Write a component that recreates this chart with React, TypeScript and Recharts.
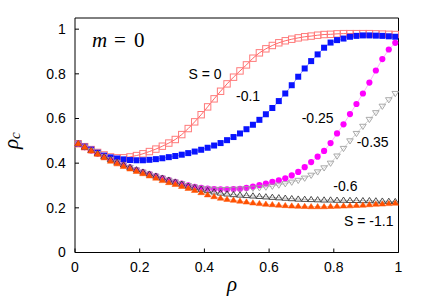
import { LineChart, Line, XAxis, YAxis } from "recharts";

// rho values where every curve is sampled
const rho = [
  0.01, 0.03, 0.05, 0.07, 0.09, 0.11, 0.13, 0.15, 0.17, 0.19, 0.21, 0.23, 0.25, 0.27, 0.29, 0.31, 0.33,
  0.35, 0.37, 0.39, 0.41, 0.43, 0.45, 0.47, 0.49, 0.51, 0.53, 0.55, 0.57, 0.59, 0.61, 0.63, 0.65, 0.67,
  0.69, 0.71, 0.73, 0.75, 0.77, 0.79, 0.81, 0.83, 0.85, 0.87, 0.89, 0.91, 0.93, 0.95, 0.97, 0.99,
];

// S = 0
const sZero = [
  0.487, 0.474, 0.461, 0.448, 0.437, 0.428, 0.424, 0.424, 0.428, 0.434, 0.442, 0.452, 0.463, 0.476, 0.49,
  0.506, 0.528, 0.555, 0.585, 0.617, 0.652, 0.688, 0.722, 0.755, 0.785, 0.813, 0.84, 0.87, 0.894, 0.912,
  0.927, 0.939, 0.948, 0.955, 0.961, 0.966, 0.969, 0.973, 0.976, 0.977, 0.979, 0.98, 0.98, 0.98, 0.98,
  0.98, 0.979, 0.978, 0.977, 0.976,
];

// S = -0.1
const sM01 = [
  0.487, 0.474, 0.461, 0.447, 0.434, 0.426, 0.421, 0.417, 0.414, 0.413, 0.413, 0.415, 0.418, 0.422, 0.427,
  0.432, 0.438, 0.445, 0.452, 0.46, 0.469, 0.479, 0.49, 0.503, 0.517, 0.533, 0.552, 0.572, 0.594, 0.619,
  0.647, 0.678, 0.712, 0.749, 0.787, 0.824, 0.857, 0.887, 0.917, 0.94, 0.951, 0.958, 0.966, 0.97, 0.972,
  0.972, 0.971, 0.97, 0.968, 0.966,
];

// S = -0.25
const sM025 = [
  0.487, 0.472, 0.457, 0.443, 0.429, 0.416, 0.404, 0.392, 0.381, 0.37, 0.36, 0.351, 0.342, 0.333, 0.324,
  0.316, 0.309, 0.301, 0.294, 0.289, 0.286, 0.284, 0.283, 0.283, 0.284, 0.285, 0.289, 0.295, 0.302, 0.309,
  0.316, 0.323, 0.332, 0.345, 0.361, 0.382, 0.405, 0.429, 0.455, 0.49, 0.533, 0.574, 0.62, 0.665, 0.712,
  0.761, 0.815, 0.866, 0.909, 0.939,
];

// S = -0.35
const sM035 = [
  0.487, 0.472, 0.457, 0.443, 0.429, 0.416, 0.404, 0.392, 0.381, 0.37, 0.36, 0.351, 0.342, 0.333, 0.324,
  0.316, 0.308, 0.3, 0.293, 0.288, 0.285, 0.283, 0.282, 0.282, 0.283, 0.284, 0.286, 0.288, 0.29, 0.293,
  0.297, 0.302, 0.308, 0.315, 0.323, 0.333, 0.346, 0.361, 0.379, 0.4, 0.432, 0.466, 0.5, 0.533, 0.565,
  0.596, 0.626, 0.655, 0.684, 0.712,
];

// S = -0.6
const sM06 = [
  0.487, 0.472, 0.457, 0.443, 0.429, 0.416, 0.404, 0.392, 0.381, 0.37, 0.36, 0.351, 0.342, 0.333, 0.324,
  0.315, 0.306, 0.297, 0.29, 0.283, 0.277, 0.271, 0.266, 0.262, 0.259, 0.257, 0.255, 0.253, 0.251, 0.249,
  0.247, 0.245, 0.243, 0.241, 0.239, 0.238, 0.237, 0.236, 0.235, 0.235, 0.234, 0.234, 0.233, 0.233, 0.232,
  0.232, 0.231, 0.23, 0.229, 0.228,
];

// S = -1.1
const sM11 = [
  0.487, 0.471, 0.455, 0.44, 0.424, 0.409, 0.397, 0.385, 0.374, 0.363, 0.353, 0.343, 0.333, 0.322, 0.313,
  0.305, 0.296, 0.287, 0.278, 0.268, 0.258, 0.25, 0.243, 0.238, 0.234, 0.23, 0.226, 0.222, 0.219, 0.216,
  0.214, 0.212, 0.21, 0.208, 0.207, 0.206, 0.205, 0.205, 0.205, 0.206, 0.207, 0.208, 0.209, 0.211, 0.212,
  0.214, 0.216, 0.217, 0.219, 0.221,
];

const xTicks = [0, 0.2, 0.4, 0.6, 0.8, 1];
const yTicks = [0, 0.2, 0.4, 0.6, 0.8, 1];

const data = rho.map((x, i) => ({
  x,
  s0: sZero[i],
  s1: sM01[i],
  s25: sM025[i],
  s35: sM035[i],
  s6: sM06[i],
  s11: sM11[i],
}));

const sans = "'Liberation Sans', Arial, sans-serif";
const serif = "'Liberation Serif', 'Times New Roman', serif";

type DotProps = { cx?: number; cy?: number; index?: number };

const openSquare = (color: string) => (p: DotProps) => (
  <rect key={`sq-${p.index}`} x={(p.cx ?? 0) - 3.2} y={(p.cy ?? 0) - 3.2} width={6.4} height={6.4}
    fill="none" stroke={color} strokeWidth={1} />
);

const filledSquare = (color: string) => (p: DotProps) => (
  <rect key={`fs-${p.index}`} x={(p.cx ?? 0) - 3} y={(p.cy ?? 0) - 3} width={6} height={6}
    fill={color} stroke="none" />
);

const filledCircle = (color: string) => (p: DotProps) => (
  <circle key={`c-${p.index}`} cx={p.cx} cy={p.cy} r={3.1} fill={color} />
);

const triangle = (color: string, filled: boolean, down: boolean) => (p: DotProps) => {
  const cx = p.cx ?? 0;
  const cy = p.cy ?? 0;
  const h = 2.9;
  const pts = down
    ? `${cx - 3.3},${cy - h * 0.7} ${cx + 3.3},${cy - h * 0.7} ${cx},${cy + h * 1.1}`
    : `${cx - 3.3},${cy + h * 0.7} ${cx + 3.3},${cy + h * 0.7} ${cx},${cy - h * 1.1}`;
  return (
    <polygon key={`t-${p.index}`} points={pts} fill={filled ? color : "none"}
      stroke={color} strokeWidth={filled ? 0.5 : 0.9} />
  );
};

const tickStyle = { fill: "#000", fontSize: 14, fontFamily: sans };

export default function App() {
  return (
    <div style={{ position: "absolute", left: 0, top: 0, width: 425, height: 298, background: "#fff" }}>
      <LineChart width={425} height={298} data={data} margin={{ top: 0, right: 0, bottom: 0, left: 0 }}>
        <XAxis xAxisId="b" dataKey="x" type="number" domain={[0, 1]} ticks={xTicks} height={45.5}
          tick={tickStyle} tickSize={-4} tickMargin={13.3} stroke="#000"
          tickFormatter={(v: number) => String(v)} />
        <XAxis xAxisId="t" orientation="top" type="number" domain={[0, 1]} ticks={xTicks} height={18}
          tick={false} tickSize={-4} stroke="#000" />
        <YAxis yAxisId="l" type="number" domain={[0, 1.05]} ticks={yTicks} width={75}
          tick={tickStyle} tickSize={-4} tickMargin={13.3} stroke="#000"
          tickFormatter={(v: number) => String(v)} />
        <YAxis yAxisId="r" orientation="right" type="number" domain={[0, 1.05]} ticks={yTicks} width={26.5}
          tick={false} tickSize={-4} stroke="#000" />

        <Line xAxisId="b" yAxisId="l" dataKey="s0" type="linear" stroke="#ff4040" strokeWidth={0.8}
          dot={openSquare("#ff7a7a")} activeDot={false} isAnimationActive={false} />
        <Line xAxisId="b" yAxisId="l" dataKey="s1" type="linear" stroke="#8080ff" strokeWidth={0.8}
          dot={filledSquare("#0a14ff")} activeDot={false} isAnimationActive={false} />
        <Line xAxisId="b" yAxisId="l" dataKey="s25" type="linear" stroke="#ffa0ff" strokeWidth={0.8}
          dot={filledCircle("#ff00ff")} activeDot={false} isAnimationActive={false} />
        <Line xAxisId="b" yAxisId="l" dataKey="s35" type="linear" stroke="#c8c8c8" strokeWidth={0.8}
          dot={triangle("#a0a0a0", false, true)} activeDot={false} isAnimationActive={false} />
        <Line xAxisId="b" yAxisId="l" dataKey="s6" type="linear" stroke="#909090" strokeWidth={0.6}
          dot={triangle("#3a3a3a", false, false)} activeDot={false} isAnimationActive={false} />
        <Line xAxisId="b" yAxisId="l" dataKey="s11" type="linear" stroke="#ff9060" strokeWidth={0.6}
          dot={triangle("#ff5000", true, false)} activeDot={false} isAnimationActive={false} />
      </LineChart>

      <svg width={425} height={298} style={{ position: "absolute", left: 0, top: 0, pointerEvents: "none" }}>
        <g fontFamily={serif} fontSize={21} fill="#000">
          <text x={92} y={46.5} fontStyle="italic">m</text>
          <text x={114} y={46.5}>=</text>
          <text x={134} y={46.5}>0</text>
          <text x={227} y={291} fontStyle="italic">ρ</text>
          <text transform="translate(17.5,149) rotate(-90)" fontStyle="italic">
            ρ<tspan fontSize={15} dy={2}>c</tspan>
          </text>
        </g>
        <g fontFamily={sans} fontSize={14} fill="#000">
          <text x={188.5} y={79}>S = 0</text>
          <text x={236} y={101}>-0.1</text>
          <text x={301.7} y={123.3}>-0.25</text>
          <text x={356.7} y={146.5}>-0.35</text>
          <text x={333.3} y={190.5}>-0.6</text>
          <text x={344} y={226}>S = -1.1</text>
        </g>
      </svg>
    </div>
  );
}
